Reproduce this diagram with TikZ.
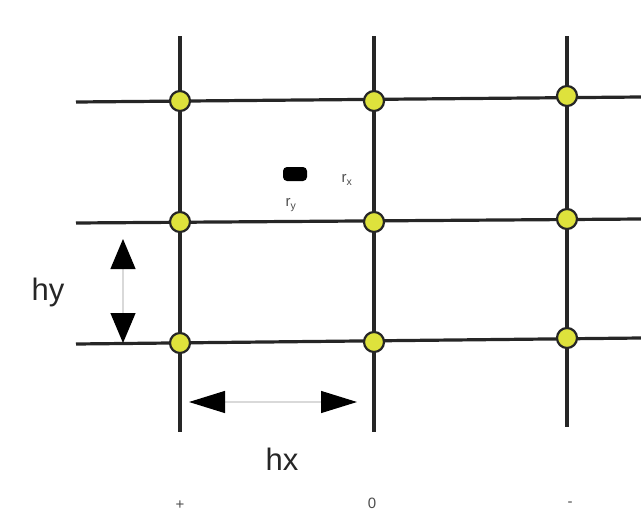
\documentclass[tikz,border=0pt]{standalone}
\usepackage{fontspec}
\setmainfont{Liberation Sans}
\usetikzlibrary{arrows.meta}
\begin{document}
\begin{tikzpicture}[x=1pt,y=-1pt,
  gridline/.style={line width=3.2pt,draw=black!85},
  gpt/.style={circle,fill={rgb,255:red,222;green,226;blue,60},draw=black!85,line width=2.2pt,minimum size=20pt,inner sep=0pt},
  vdim/.style={draw=black!15,line width=1.2pt,{Triangle[length=30pt,width=25pt,color=black,fill=black]}-{Triangle[length=30pt,width=25pt,color=black,fill=black]}},
  hdim/.style={draw=black!15,line width=1.2pt,{Triangle[length=36pt,width=22pt,color=black,fill=black]}-{Triangle[length=36pt,width=22pt,color=black,fill=black]}},
  small/.style={font=\fontsize{15}{17}\selectfont,text=black!70}]
\useasboundingbox (0,0) rectangle (641,517);
% vertical line endpoints
\coordinate (v1t) at (180,36); \coordinate (v1b) at (180,432);
\coordinate (v2t) at (374,36); \coordinate (v2b) at (374,432);
\coordinate (v3t) at (567,36); \coordinate (v3b) at (567,427);
% horizontal line endpoints
\coordinate (h1l) at (76,102); \coordinate (h1r) at (641,97);
\coordinate (h2l) at (76,223); \coordinate (h2r) at (641,219);
\coordinate (h3l) at (76,344); \coordinate (h3r) at (641,338);
\draw[gridline] (v1t) -- (v1b);
\draw[gridline] (v2t) -- (v2b);
\draw[gridline] (v3t) -- (v3b);
\draw[gridline] (h1l) -- (h1r);
\draw[gridline] (h2l) -- (h2r);
\draw[gridline] (h3l) -- (h3r);
% grid points
\node[gpt] (p11) at (180,101) {};
\node[gpt] (p12) at (374,101) {};
\node[gpt] (p13) at (567,96) {};
\node[gpt] (p21) at (180,222) {};
\node[gpt] (p22) at (374,222) {};
\node[gpt] (p23) at (567,219) {};
\node[gpt] (p31) at (180,343) {};
\node[gpt] (p32) at (374,342) {};
\node[gpt] (p33) at (567,338) {};
% particle
\node[fill=black,rounded corners=4pt,minimum width=24pt,minimum height=14pt,inner sep=0pt] (part) at (295,174) {};
\node[small] (rx) at (347,180) {r$_\mathrm{x}$};
\node[small] (ry) at (291,205) {r$_\mathrm{y}$};
% dimension arrows
\coordinate (hyt) at (123,239); \coordinate (hyb) at (123,343);
\draw[vdim] (hyt) -- (hyb);
\coordinate (hxl) at (189,402); \coordinate (hxr) at (357,402);
\draw[hdim] (hxl) -- (hxr);
\node[font=\fontsize{31}{36}\selectfont,text=black!85] (hy) at (48,292) {hy};
\node[font=\fontsize{31}{36}\selectfont,text=black!85] (hx) at (282,459) {hx};
\node[small] (plus) at (180,505) {+};
\node[small] (zero) at (372,503) {0};
\node[small] (minus) at (570,504) {-};
\end{tikzpicture}
\end{document}
